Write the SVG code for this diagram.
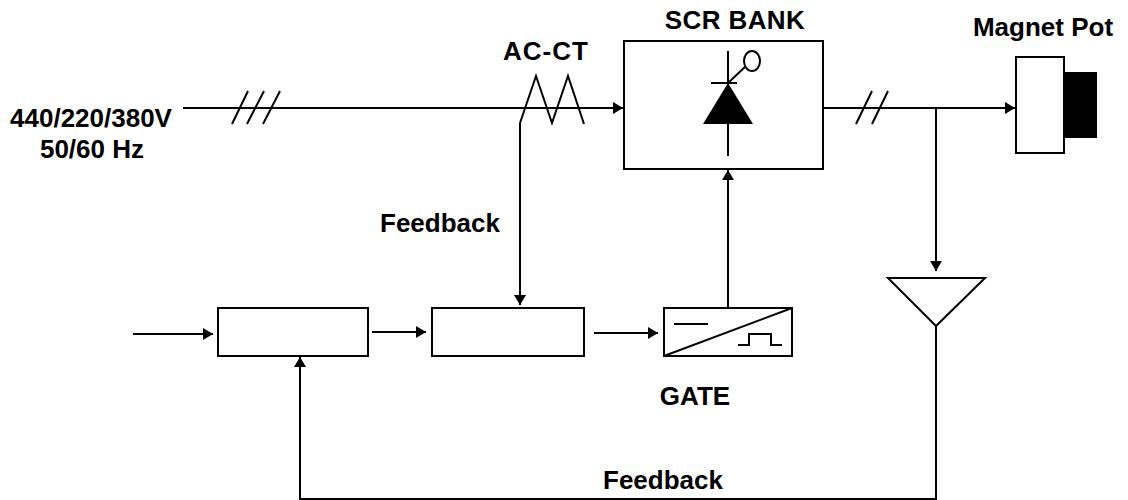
<svg xmlns="http://www.w3.org/2000/svg" width="1128" height="500" viewBox="0 0 1128 500">
<style>
.l{fill:none;stroke:#000;stroke-width:2}
.b{fill:#fff;stroke:#000;stroke-width:2}
text{font-family:"Liberation Sans",Arial,sans-serif;font-weight:bold;font-size:26px;fill:#000}
.m{text-anchor:middle}
</style>
<defs><marker id="a" markerUnits="userSpaceOnUse" markerWidth="11" markerHeight="12" refX="10" refY="6" orient="auto"><path d="M0 0L10 6L0 12Z" fill="#000"/></marker></defs>
<rect width="1128" height="500" fill="#fff"/>
<g id="connectors">
<path class="l" d="M183 108H623" marker-end="url(#a)"/>
<path class="l" d="M232 124L248 91M247 124L264 91M263 124L280 91"/>
<path class="l" d="M520 123L536 76L552 123L568 76L584 124"/>
<path class="l" d="M520 123V305" marker-end="url(#a)"/>
<path class="l" d="M823 108H1015" marker-end="url(#a)"/>
<path class="l" d="M856 124L872 91M872 124L888 91"/>
<path class="l" d="M936 108V271" marker-end="url(#a)"/>
<path class="l" d="M728 308V170" marker-end="url(#a)"/>
<path class="l" d="M133 334H213" marker-end="url(#a)"/>
<path class="l" d="M372 332H426" marker-end="url(#a)"/>
<path class="l" d="M594 333H658" marker-end="url(#a)"/>
<path class="l" d="M936 326V499H300V357" marker-end="url(#a)"/>
</g>
<g id="scr-bank"><rect class="b" x="624" y="41" width="199" height="128"/>
<path class="l" d="M728 51V156M711 83H737M728 83L746 66"/>
<path d="M728 83L753 124H703Z" fill="#000"/>
<ellipse class="b" cx="752" cy="61" rx="8" ry="10"/>
<text class="m" x="735" y="29" letter-spacing=".4">SCR BANK</text></g>
<g id="magnet-pot"><rect class="b" x="1016" y="57" width="48" height="96"/>
<rect x="1064" y="72" width="33" height="66" fill="#000"/>
<text class="m" x="1043" y="36">Magnet Pot</text></g>
<g id="amp"><path class="b" d="M888 278H985L936 326Z"/></g>
<g id="box1"><rect class="b" x="218" y="308" width="150" height="48"/></g>
<g id="box2"><rect class="b" x="432" y="308" width="152" height="48"/></g>
<g id="gate"><rect class="b" x="664" y="308" width="128" height="48"/>
<path class="l" d="M664 356L792 308M674 324H708M738 345H749V334H771V345H782"/>
<text class="m" x="695" y="405">GATE</text></g>
<g id="labels">
<text class="m" x="546" y="60" letter-spacing="1">AC-CT</text>
<text class="m" x="91" y="127">440/220/380V</text>
<text class="m" x="92" y="158">50/60 Hz</text>
<text class="m" x="440" y="232">Feedback</text>
<text class="m" x="663" y="489">Feedback</text>
</g>
</svg>
